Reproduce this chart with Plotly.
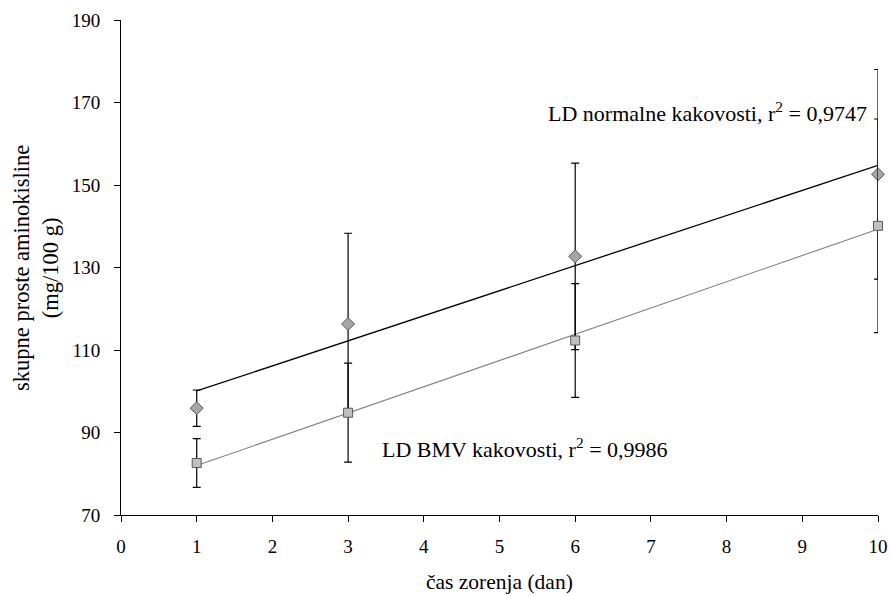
import numpy as np
import plotly.graph_objects as go

# ---- data ----
days = [1, 3, 6, 10]
normal_mean = [95.9, 116.3, 132.7, 152.6]
normal_sd = [4.4, 22.0, 22.6, 25.4]
bmv_mean = [82.6, 94.8, 112.3, 140.1]
bmv_sd = [5.9, 12.0, 13.8, 25.9]

x_ticks = list(range(0, 11))
y_ticks = [70, 90, 110, 130, 150, 170, 190]

label_normal = "LD normalne kakovosti, r<sup>2</sup> = 0,9747"
label_bmv = "LD BMV kakovosti, r<sup>2</sup> = 0,9986"
x_title = "čas zorenja (dan)"
y_title = "skupne proste aminokisline<br>(mg/100 g)"

FONT = "Liberation Serif"

def trend(xs, ys):
    k, b = np.polyfit(xs, ys, 1)
    xx = [min(xs), max(xs)]
    return xx, [k * v + b for v in xx]

fig = go.Figure()

# trend lines
tx, ty = trend(days, normal_mean)
fig.add_trace(go.Scatter(x=tx, y=ty, mode="lines",
                         line=dict(color="#000000", width=1.3),
                         hoverinfo="skip", showlegend=False, cliponaxis=False))
tx2, ty2 = trend(days, bmv_mean)
fig.add_trace(go.Scatter(x=tx2, y=ty2, mode="lines",
                         line=dict(color="#7f7f7f", width=1.1),
                         hoverinfo="skip", showlegend=False, cliponaxis=False))

# data points with error bars
fig.add_trace(go.Scatter(
    x=days, y=normal_mean, mode="markers", cliponaxis=False,
    marker=dict(symbol="diamond", size=10, color="#a6a6a6",
                line=dict(color="#595959", width=1)),
    error_y=dict(type="data", array=normal_sd, visible=True,
                 color="#000000", thickness=1.2, width=4),
    showlegend=False))
fig.add_trace(go.Scatter(
    x=days, y=bmv_mean, mode="markers", cliponaxis=False,
    marker=dict(symbol="square", size=9, color="#c0c0c0",
                line=dict(color="#595959", width=1)),
    error_y=dict(type="data", array=bmv_sd, visible=True,
                 color="#000000", thickness=1.2, width=4),
    showlegend=False))

fig.add_annotation(x=9.88, y=167.8, xref="x", yref="y", text=label_normal,
                   showarrow=False, xanchor="right", yanchor="middle",
                   font=dict(family=FONT, size=22, color="#000000"))
fig.add_annotation(x=3.42, y=86.2, xref="x", yref="y", text=label_bmv,
                   showarrow=False, xanchor="left", yanchor="middle",
                   font=dict(family=FONT, size=22, color="#000000"))

# axis titles as annotations (precise placement)
fig.add_annotation(x=0.5, y=-0.135, xref="paper", yref="paper", text=x_title,
                   showarrow=False, xanchor="center", yanchor="middle",
                   font=dict(family=FONT, size=21.5, color="#000000"))
fig.add_annotation(x=-0.113, y=0.5, xref="paper", yref="paper", text=y_title,
                   showarrow=False, xanchor="center", yanchor="middle",
                   textangle=-90,
                   font=dict(family=FONT, size=22.5, color="#000000"))

fig.update_layout(
    width=890, height=596, autosize=False,
    margin=dict(l=121, r=12, t=20, b=81, autoexpand=False),
    paper_bgcolor="white", plot_bgcolor="white",
    font=dict(family=FONT, size=19, color="#000000"),
)
fig.update_xaxes(range=[0, 10], tickvals=x_ticks, ticks="outside", ticklen=6,
                 tickwidth=1, tickcolor="black", showline=True, linecolor="black",
                 linewidth=1, showgrid=False, zeroline=False, automargin=False,
                 ticklabelstandoff=8, tickfont=dict(family=FONT, size=19))
fig.update_yaxes(range=[70, 190], tickvals=y_ticks, ticks="outside", ticklen=6,
                 tickwidth=1, tickcolor="black", showline=True, linecolor="black",
                 linewidth=1, showgrid=False, zeroline=False, automargin=False,
                 ticklabelstandoff=10, tickfont=dict(family=FONT, size=19))

fig.write_html("out.html")
